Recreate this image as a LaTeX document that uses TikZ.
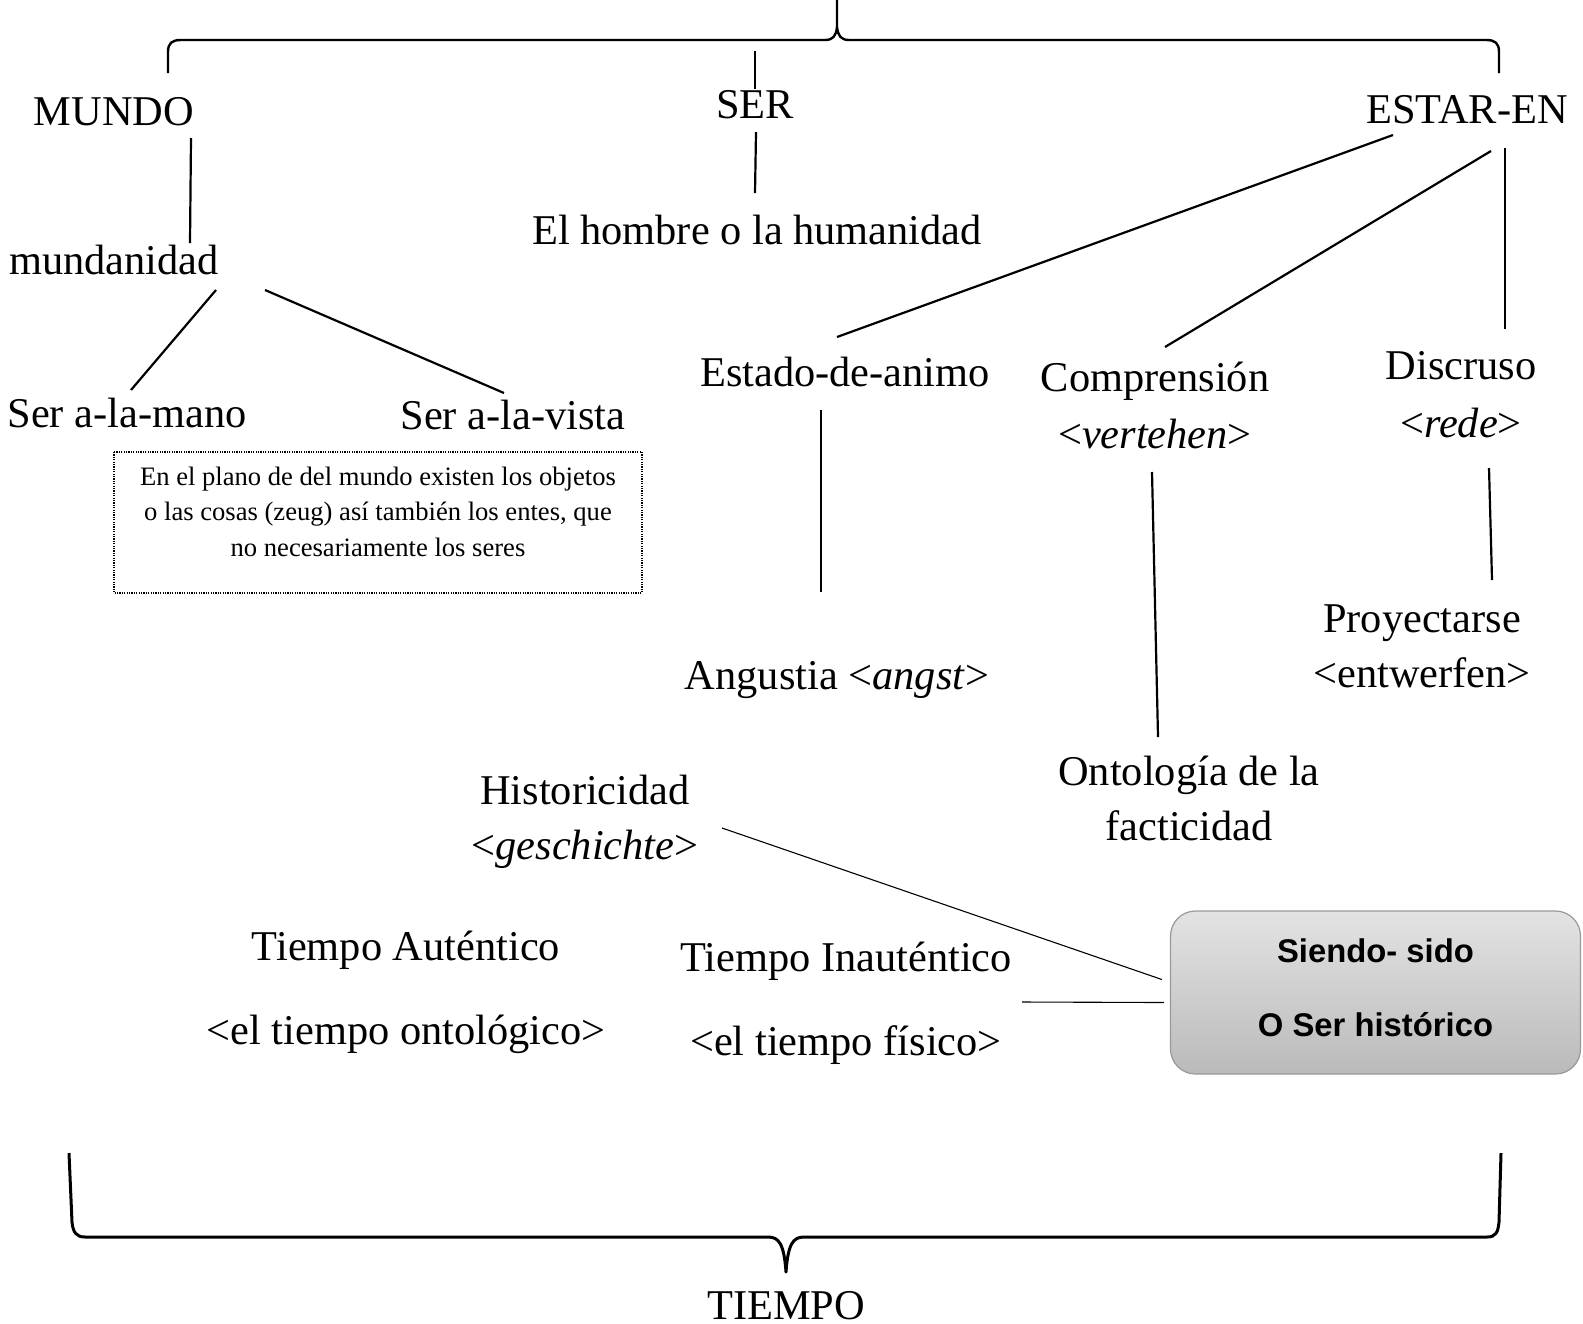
\documentclass[tikz,border=0pt]{standalone}
\usepackage{fontspec}
\setmainfont{Liberation Serif}
\newfontfamily\cajafont{Liberation Sans}
\usepackage{tikz}

\begin{document}
\begin{tikzpicture}[x=0.5pt,y=-0.5pt,
  lbl/.style={font=\fontsize{21.2}{27.5}\selectfont,inner sep=0pt,anchor=base,align=center},
  ln/.style={line width=1.1pt},
  lnthin/.style={line width=0.55pt},
  llave/.style={line width=1.2pt,line join=round},
  nota/.style={line width=0.7pt,dash pattern=on 0.6pt off 0.6pt},
  caja/.style={draw=black!40,line width=0.6pt,rounded corners=12.5pt,top color=black!11,bottom color=black!27,minimum width=205pt,minimum height=81.5pt,align=center,text depth=5pt,font=\cajafont\bfseries\fontsize{16.4}{37}\selectfont}]
\useasboundingbox (0,0) rectangle (1583,1323);
% llaves
\draw[llave] (168,73) -- (168,52) .. controls (168,43) and (172,40) .. (181,40) -- (825,40)
   .. controls (833,40) and (836,36) .. (837,27) -- (837,0)
   (837,27) .. controls (838,36) and (841,40) .. (849,40) -- (1486,40)
   .. controls (1495,40) and (1499,43) .. (1499,52) -- (1499,73);
\draw[llave,line width=1.5pt] (69,1153) -- (72,1222) .. controls (73,1232) and (76,1237) .. (85,1237) -- (768,1237)
   .. controls (779,1237) and (784,1244) .. (786,1272)
   .. controls (788,1244) and (793,1237) .. (804,1237) -- (1487,1237)
   .. controls (1496,1237) and (1498,1232) .. (1499,1222) -- (1501,1153);
% conceptos
\node[lbl] (mundo) at (114,125) {MUNDO};
\node[lbl] (ser) at (755,118) {SER};
\node[lbl] (estar) at (1467,123) {ESTAR-EN};
\node[lbl] (hombre) at (757,244) {El hombre o la humanidad};
\node[lbl] (mundan) at (114,274) {mundanidad};
\node[lbl] (mano) at (127,427) {Ser a-la-mano};
\node[lbl] (vista) at (513,429) {Ser a-la-vista};
\node[lbl] (estado) at (845,386) {Estado-de-animo};
\node[lbl] (compr) at (1155,448) {Comprensión\\[1pt]<\textit{vertehen}>};
\node[lbl] (disc) at (1461,437) {Discruso\\[1.5pt]<\textit{rede}>};
\node[lbl] (angst) at (837,689) {Angustia <\textit{angst}>};
\node[lbl] (proy) at (1422,687) {Proyectarse\\<entwerfen>};
\node[lbl] (onto) at (1189,840) {Ontología de la\\facticidad};
\node[lbl] (hist) at (585,859) {Historicidad\\<\textit{geschichte}>};
\node[lbl] (taut) at (406,1044) {Tiempo Auténtico\\[14.5pt]<el tiempo ontológico>};
\node[lbl] (tinaut) at (846,1055) {Tiempo Inauténtico\\[14.5pt]<el tiempo físico>};
\node[lbl] (tiempo) at (786,1319) {TIEMPO};
\node[caja] (siendo) at (1375.5,992.5) {Siendo- sido\\O Ser histórico};
\draw[nota] (114,452) rectangle (642,593);
\node[lbl,font=\fontsize{13.3}{17.6}\selectfont] (notatxt) at (378,556)
   {En el plano de del mundo existen los objetos\\o las cosas (zeug) así también los entes, que\\no necesariamente los seres};
% uniones
\coordinate (sertop) at (755,51);
\draw[ln] (sertop) -- ([shift={(0,-29)}]ser.base);
\foreach \a/\ax/\ay/\b/\bx/\by in %
{mundo/77/13/mundan/76/-31, mundan/102/16/mano/4/-37, mundan/151/16/vista/-9/-36,
 ser/1/14/hombre/-2/-51, estar/-74/12/estado/-8/-49, estar/24/28/compr/10/-101,
 estar/38/25/disc/44/-108, estado/-24/24/angst/-16/-97, compr/-3/24/onto/-31/-103,
 disc/28/31/proy/70/-107} {
   \draw[ln] ([shift={(\ax,\ay)}]\a.base) -- ([shift={(\bx,\by)}]\b.base);
}
\draw[lnthin] ([shift={(137,-31)}]hist.base) -- ([shift={(-8,-13)}]siendo.west);
\draw[lnthin] ([shift={(176,-53)}]tinaut.base) -- ([shift={(-6,10)}]siendo.west);
\end{tikzpicture}
\end{document}
